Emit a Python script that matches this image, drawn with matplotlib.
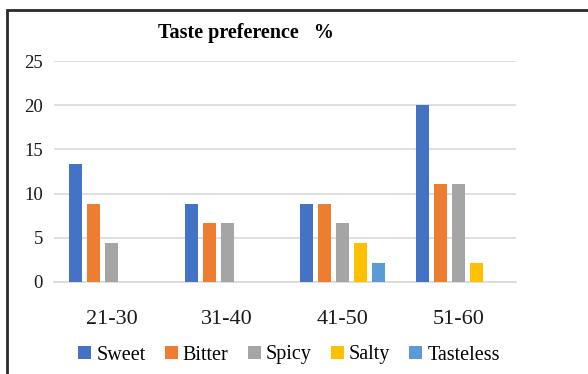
import matplotlib.pyplot as plt
import matplotlib.patches as patches
import numpy as np

plt.rcParams['font.family'] = ['Liberation Serif', 'DejaVu Serif']

# age groups and taste preference (%)
groups = ['21-30', '31-40', '41-50', '51-60']
sweet = [13.3, 8.8, 8.8, 20.0]
bitter = [8.8, 6.7, 8.8, 11.1]
spicy = [4.4, 6.7, 6.7, 11.1]
salty = [0, 0, 4.4, 2.2]
tasteless = [0, 0, 2.2, 0]

series = [('Sweet', sweet, '#4472C4'),
          ('Bitter', bitter, '#ED7D31'),
          ('Spicy', spicy, '#A5A5A5'),
          ('Salty', salty, '#FFC000'),
          ('Tasteless', tasteless, '#5B9BD5')]

fig = plt.figure(figsize=(5.88, 3.74), dpi=100)
ax = fig.add_axes([54 / 588, 1 - 282 / 374, (516 - 54) / 588, (282 - 61) / 374])

x = np.arange(len(groups))
slot = 0.156
width = 0.11
for i, (name, vals, color) in enumerate(series):
    ax.bar(x + (i - 2) * slot, vals, width, color=color, label=name, zorder=3)

ax.set_ylim(0, 25)
ax.set_xlim(-0.5, len(groups) - 0.5)
ax.set_yticks([0, 5, 10, 15, 20, 25])
ax.set_xticks(x)
ax.set_xticklabels(groups)
ax.grid(axis='y', color='#D9D9D9', linewidth=1.2, zorder=0)
for s in ['top', 'right', 'left']:
    ax.spines[s].set_visible(False)
ax.spines['bottom'].set_color('#D9D9D9')
ax.spines['bottom'].set_linewidth(1.2)
ax.tick_params(axis='both', length=0, labelcolor='#1a1a1a')
ax.tick_params(axis='y', labelsize=13.5, pad=8)
ax.tick_params(axis='x', labelsize=16, pad=20)

fig.text(246 / 588, 1 - 33 / 374, 'Taste preference   %', ha='center', va='center',
         fontsize=14.5, fontweight='bold')

fig.legend(loc='center', bbox_to_anchor=(289 / 588, 1 - 355 / 374), ncol=5,
           frameon=False, fontsize=14.5, handlelength=0.65, handleheight=0.65,
           handletextpad=0.25, columnspacing=0.95, borderaxespad=0)

# outer frame of the chart
fig.patches.append(patches.Rectangle((7 / 588, -0.05), 1.1, 1 - 10 / 374 + 0.05,
                                     transform=fig.transFigure, fill=False,
                                     edgecolor='#2a2a2a', linewidth=2.0))

fig.savefig('out.png', dpi=100)
